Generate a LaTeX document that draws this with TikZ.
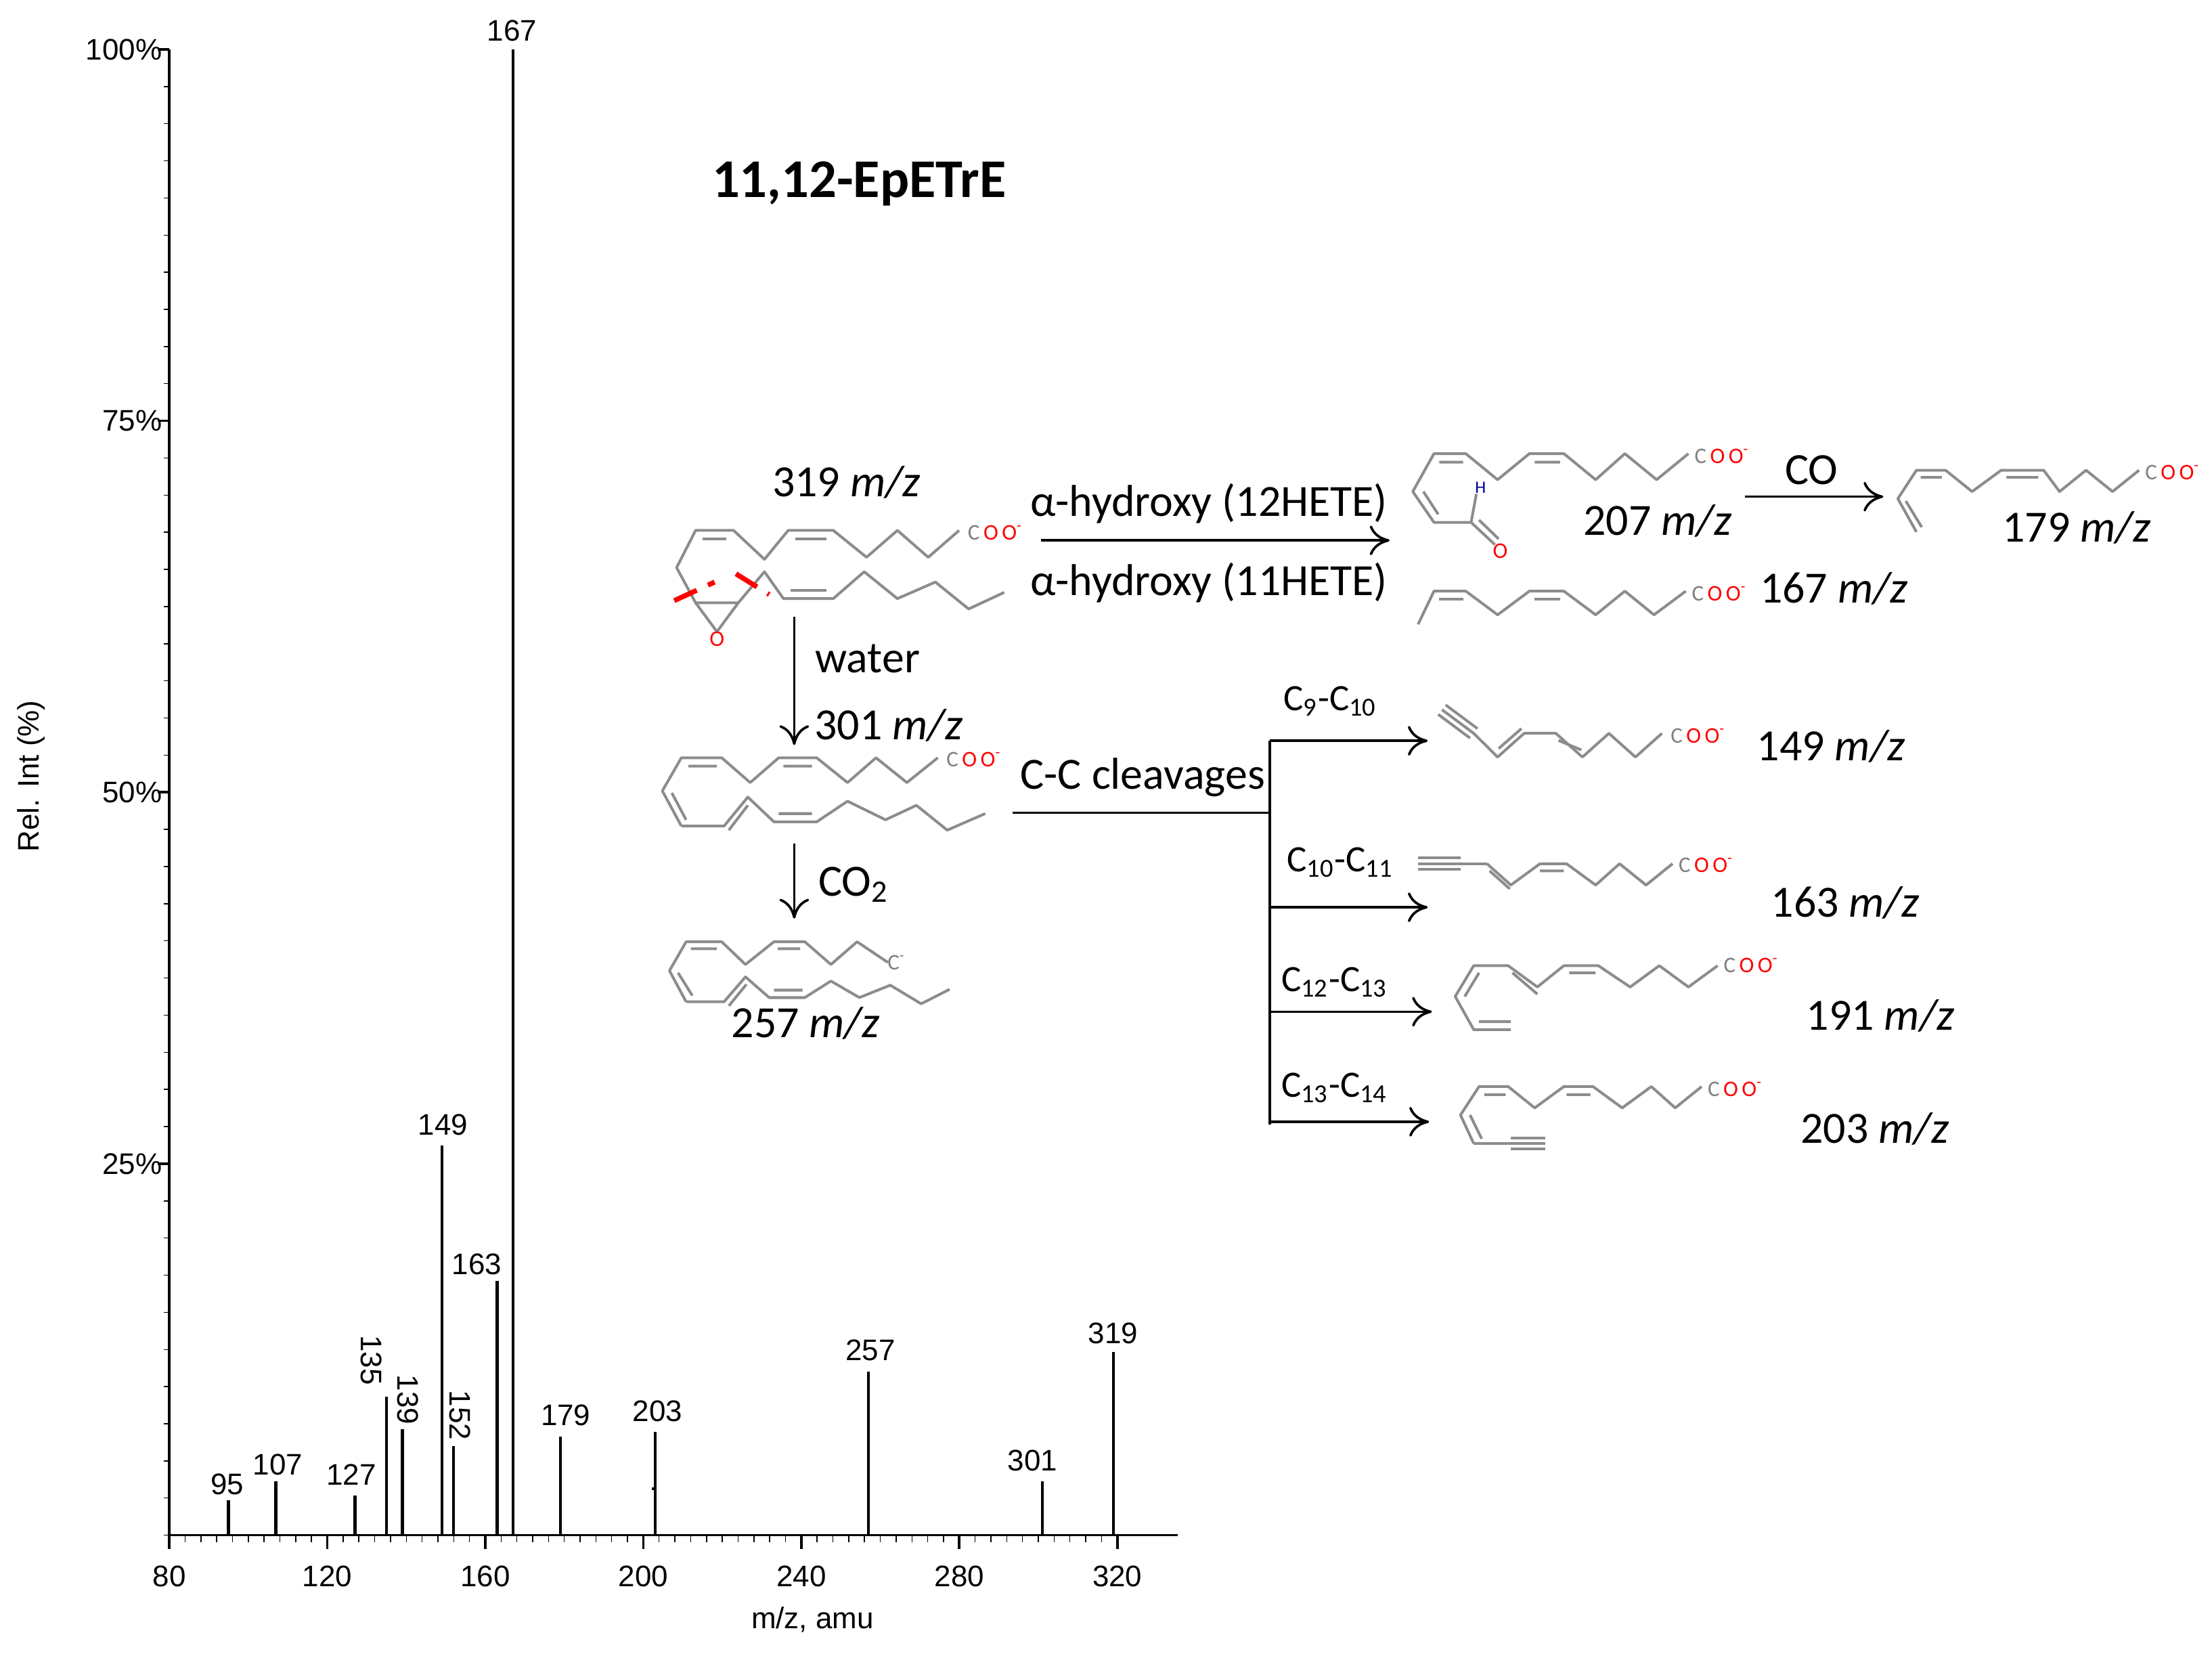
\documentclass[tikz,border=0pt]{standalone}
\usepackage{fontspec}
\setmainfont{Carlito}
\newfontfamily\arialf{Liberation Sans}
\usetikzlibrary{arrows.meta}
\tikzset{
 mol/.style={draw=gray!90,line width=1.1pt,line join=round},
 rx/.style={-{To[length=8pt,width=12pt]},line width=1pt},
 lab/.style={font=\fontsize{18}{20}\selectfont},
 slab/.style={font=\fontsize{15}{17}\selectfont},
 ax/.style={font=\arialf\fontsize{12}{14}\selectfont},
 pk/.style={line width=1.2pt},
 cut/.style={draw=red,line width=2pt,dash pattern=on 10pt off 5pt},
}
\newcommand{\cooo}{{\fontsize{9}{9}\selectfont\color{gray}C\,\color{red}O\,O\textsuperscript{-}}}
\begin{document}
\begin{tikzpicture}[x=0.02cm,y=-0.02cm]
\useasboundingbox (0,0) rectangle (1568,1175);
% ---------- chart ----------
\draw[line width=1pt] (120,35) -- (120,1088) -- (835,1088);
\foreach \p in {0,2.5,...,100} \draw (120,{1088-\p*10.53}) -- (116,{1088-\p*10.53});
\foreach \p/\t in {25/25\%,50/50\%,75/75\%,100/100\%} {\draw[line width=1pt] (120,{1088-\p*10.53}) -- (112,{1088-\p*10.53}); \node[ax,anchor=east] at (121,{1088-\p*10.53}) {\t};}
\foreach \m in {80,84,...,320} \draw ({120+(\m-80)*2.8},1088) -- ({120+(\m-80)*2.8},1093);
\foreach \m in {80,120,...,320} {\draw[line width=1pt] ({120+(\m-80)*2.8},1088) -- ({120+(\m-80)*2.8},1098); \node[ax] at ({120+(\m-80)*2.8},1117) {\m};}
\node[ax] (xl) at (576,1148) {m/z, amu};
\node[ax,rotate=90] (yl) at (22,550) {Rel. Int (\%)};
\foreach \m/\h in {95/1063,107/1050,127/1060,135/990,139/1013,149/812,152/1025,163/908,167/35,179/1018,203/1015,257/972,301/1050,319/958}
  \draw[pk] ({120+(\m-80)*2.8},1088) -- ({120+(\m-80)*2.8},\h);
\draw[pk] (462,1055) -- (465,1055);
\foreach \t/\x/\y in {95/161/1052,107/197/1038,127/249/1045,149/314/797,163/338/896,167/363/22,179/401/1003,203/466/1000,257/617/957,301/732/1035,319/789/945}
  \node[ax] at (\x,\y) {\t};
\foreach \t/\x/\y in {135/263/964,139/289/992,152/326/1003}
  \node[ax,rotate=-90] at (\x,\y) {\t};
\node[font=\fontsize{22}{24}\selectfont\bfseries] (title) at (609,130) {11,12-EpETrE};
% ---------- scheme left (zoom1 coords) ----------
\begin{scope}[shift={(451,288)},xscale=0.3366,yscale=0.293]
 \draw[mol] (170,545) -- (125,475) -- (85,390) -- (125,300) -- (205,300) -- (270,370) -- (320,300) -- (415,300) -- (485,365) -- (550,300) -- (615,365) -- (680,300);
 \draw[mol] (140,320) -- (190,320) (335,320) -- (400,320);
 \draw[mol] (125,475) -- (215,475) -- (170,545);
 \draw[mol] (215,475) -- (270,400) -- (310,465) -- (415,465) -- (480,400) -- (550,465) -- (630,425) -- (700,490) -- (775,450);
 \draw[mol] (325,445) -- (400,445);
 \node[text=red,font=\fontsize{9}{9}\selectfont] at (170,562) {O};
 \node[anchor=west] at (680,305) {\cooo};
 \draw[cut] (80,470) -- (165,425);
 \draw[cut] (210,405) -- (280,455);
 \draw[mol] (95,1015) -- (55,930) -- (95,850) -- (180,850) -- (240,910) -- (300,850) -- (380,850) -- (445,910) -- (505,850) -- (570,910) -- (635,850);
 \draw[mol] (110,870) -- (170,870) (310,870) -- (370,870) (75,935) -- (105,1000);
 \draw[mol] (95,1015) -- (185,1015) -- (235,945) -- (290,1005) -- (380,1005) -- (445,955) -- (525,1000) -- (590,965) -- (655,1025) -- (735,985);
 \draw[mol] (195,1025) -- (235,965) (300,985) -- (370,985);
 \node[anchor=west] at (635,855) {\cooo};
 \draw[mol] (105,1440) -- (70,1365) -- (105,1295) -- (180,1295) -- (230,1350) -- (290,1295) -- (355,1295) -- (410,1350) -- (465,1295) -- (530,1345);
 \draw[mol] (115,1312) -- (170,1312) (298,1312) -- (345,1312) (88,1370) -- (118,1425);
 \draw[mol] (105,1440) -- (185,1440) -- (230,1380) -- (280,1430) -- (355,1430) -- (410,1390) -- (470,1430) -- (535,1400) -- (600,1445) -- (660,1410);
 \draw[mol] (195,1450) -- (232,1398) (290,1412) -- (350,1412);
 \node[text=gray,font=\fontsize{9}{9}\selectfont] at (548,1345) {C\textsuperscript{-}};
\end{scope}
% ---------- scheme right (zoom2 coords) ----------
\begin{scope}[shift={(978.9,287.9)},xscale=0.3758,yscale=0.336]
 \draw[mol] (170,245) -- (100,245) -- (60,180) -- (100,100) -- (160,100) -- (220,155) -- (280,100) -- (345,100) -- (405,155) -- (460,100) -- (520,155) -- (580,100);
 \draw[mol] (110,118) -- (155,118) (290,118) -- (338,118) (80,180) -- (108,228);
 \draw[mol] (170,245) -- (180,185) (170,245) -- (215,292) (185,240) -- (222,280);
 \node[text=blue!60!black,font=\fontsize{7}{7}\selectfont] at (188,172) {H};
 \node[text=red,font=\fontsize{9}{9}\selectfont] at (225,305) {O};
 \node[anchor=west] at (575,105) {\cooo};
 \draw[mol] (1010,265) -- (975,195) -- (1010,135) -- (1065,135) -- (1115,180) -- (1170,135) -- (1250,135) -- (1280,180) -- (1330,135) -- (1380,180) -- (1430,135);
 \draw[mol] (990,200) -- (1020,255) (1018,150) -- (1058,150) (1180,150) -- (1240,150);
 \node[anchor=west] at (1425,140) {\cooo};
 \draw[mol] (70,460) -- (100,390) -- (160,390) -- (220,440) -- (280,390) -- (345,390) -- (405,440) -- (460,390) -- (515,440) -- (575,390);
 \draw[mol] (110,407) -- (155,407) (290,407) -- (338,407);
 \node[anchor=west] at (570,395) {\cooo};
 \draw[mol] (115,640) -- (175,690) (122,630) -- (182,680) (108,650) -- (168,700);
 \draw[mol] (175,690) -- (220,740) -- (270,690) -- (330,690) -- (380,740) -- (430,690) -- (480,740) -- (530,690);
 \draw[mol] (222,722) -- (265,680) (335,705) -- (378,725);
 \node[anchor=west] at (530,695) {\cooo};
 \draw[mol] (70,965) -- (200,965) (70,953) -- (150,953) (70,977) -- (150,977);
 \draw[mol] (200,965) -- (245,1010) -- (300,965) -- (350,965) -- (405,1010) -- (450,965) -- (500,1010) -- (550,965);
 \draw[mol] (205,980) -- (243,1018) (300,980) -- (345,980);
 \node[anchor=west] at (545,968) {\cooo};
 \draw[mol] (245,1315) -- (175,1315) -- (140,1245) -- (175,1180) -- (240,1180) -- (295,1225) -- (345,1180) -- (410,1180) -- (470,1225) -- (525,1180) -- (580,1225) -- (635,1180);
 \draw[mol] (185,1298) -- (245,1298) (158,1245) -- (185,1195) (248,1195) -- (295,1240) (355,1195) -- (405,1195);
 \node[anchor=west] at (630,1180) {\cooo};
 \draw[mol] (175,1555) -- (150,1495) -- (185,1435) -- (240,1435) -- (290,1480) -- (345,1435) -- (400,1435) -- (455,1480) -- (510,1435) -- (555,1480) -- (605,1435);
 \draw[mol] (175,1555) -- (310,1555) (245,1543) -- (310,1543) (245,1567) -- (310,1567);
 \draw[mol] (168,1495) -- (190,1545) (195,1452) -- (235,1452) (350,1452) -- (395,1452);
 \node[anchor=west] at (600,1440) {\cooo};
\end{scope}
% ---------- scheme text and arrows ----------
\node[lab] (m319) at (600,342) {319 \textit{m/z}};
\coordinate (a1s) at (738,383); \coordinate (a1e) at (985,383);
\draw[rx] (a1s) -- (a1e);
\node[lab] (h12) at (857,357) {α-hydroxy (12HETE)};
\node[lab] (h11) at (857,413) {α-hydroxy (11HETE)};
\coordinate (ws) at (563,437); \coordinate (we) at (563,528);
\draw[rx] (ws) -- (we);
\node[lab] (water) at (615,467) {water};
\node[lab] (m301) at (630,514) {301 \textit{m/z}};
\coordinate (cs) at (563,598); \coordinate (ce) at (563,651);
\draw[rx] (cs) -- (ce);
\node[lab] (co2) at (605,627) {CO\textsubscript{2}};
\node[lab] (m257) at (571,725) {257 \textit{m/z}};
\node[lab] (ccl) at (810,551) {C-C cleavages};
\coordinate (cc0) at (718,576); \coordinate (cc1) at (900,576);
\coordinate (vt) at (900,525); \coordinate (vb) at (900,797);
\draw[line width=1pt] (cc0) -- (cc1) (vt) -- (vb);
\foreach \y/\e/\t/\lx/\ly in {525/1012/{C\textsubscript{9}-C\textsubscript{10}}/943/497, 643/1012/{C\textsubscript{10}-C\textsubscript{11}}/950/611, 717/1015/{C\textsubscript{12}-C\textsubscript{13}}/946/696, 795/1013/{C\textsubscript{13}-C\textsubscript{14}}/946/771} {
  \draw[rx] (900,\y) -- (\e,\y);
  \node[slab] at (\lx,\ly) {\t};
}
\coordinate (cos) at (1237,352); \coordinate (coe) at (1335,352);
\draw[rx] (cos) -- (coe);
\node[lab] (co) at (1284,333) {CO};
\node[lab] at (1175,369) {207 \textit{m/z}};
\node[lab] at (1472,374) {179 \textit{m/z}};
\node[lab] at (1300,417) {167 \textit{m/z}};
\node[lab] at (1298,529) {149 \textit{m/z}};
\node[lab] at (1308,640) {163 \textit{m/z}};
\node[lab] at (1333,720) {191 \textit{m/z}};
\node[lab] at (1329,800) {203 \textit{m/z}};
\end{tikzpicture}
\end{document}
